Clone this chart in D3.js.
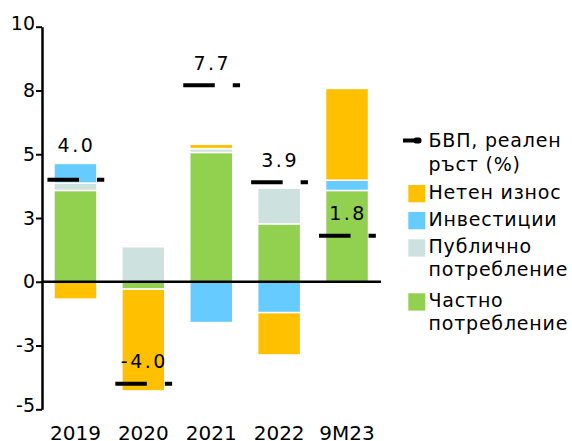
<!DOCTYPE html>
<html>
<head>
<meta charset="utf-8">
<script src="https://cdn.jsdelivr.net/npm/d3@7"></script>
<style>
  html, body { margin: 0; padding: 0; background: #fff; }
  svg { display: block; font-family: "DejaVu Sans", Verdana, sans-serif; }
</style>
</head>
<body>
<svg id="chart" width="572" height="441"></svg>
<script>
// ---- data ----
const categories = ["2019", "2020", "2021", "2022", "9M23"];
const privateCons = [3.58, -0.29, 5.07, 2.27, 3.58];   // Частно потребление
const publicCons  = [0.29, 1.38, 0.15, 1.40, 0.00];    // Публично потребление
const investment  = [0.77, 0.06, -1.60, -1.21, 0.40];  // Инвестиции
const netExports  = [-0.68, -3.99, 0.17, -1.66, 3.60]; // Нетен износ
const gdpGrowth   = [4.0, -4.0, 7.7, 3.9, 1.8];        // БВП, реален ръст (%)
const gdpLabels   = ["4.0", "-4.0", "7.7", "3.9", "1.8"];
const yTickValues = [-5, -2.5, 0, 2.5, 5, 7.5, 10];
const yTickLabels = ["-5", "-3", "0", "3", "5", "8", "10"];
const seriesKeys  = ["private", "public", "investment", "netExports"];
const seriesNames = ["Частно потребление", "Публично потребление", "Инвестиции", "Нетен износ"];
const seriesColors = ["#92d050", "#cde2df", "#66ccff", "#ffc000"];
const gdpLegendLines = ["БВП, реален", "ръст (%)"];

// ---- build table ----
const table = categories.map((c, i) => ({
  cat: c,
  private: privateCons[i],
  public: publicCons[i],
  investment: investment[i],
  netExports: netExports[i],
  gdp: gdpGrowth[i],
  gdpLabel: gdpLabels[i]
}));

const svg = d3.select("#chart");
const FONT = "DejaVu Sans, Verdana, sans-serif";

const x = d3.scaleBand().domain(categories).range([41.5, 381])
  .paddingInner(0.367).paddingOuter(0.1835);
const y = d3.scaleLinear().domain([-5, 10]).range([409.3, 26.7]);
const color = d3.scaleOrdinal().domain(seriesKeys).range(seriesColors);

const stack = d3.stack().keys(seriesKeys)
  .order(d3.stackOrderNone).offset(d3.stackOffsetDiverging);
const stacked = stack(table);

// bars
svg.append("g").selectAll("g").data(stacked).join("g")
  .attr("fill", d => color(d.key))
  .selectAll("rect").data(d => d).join("rect")
  .attr("x", d => x(d.data.cat))
  .attr("width", x.bandwidth())
  .attr("y", d => y(Math.max(d[0], d[1])))
  .attr("height", d => Math.abs(y(d[0]) - y(d[1])))
  .attr("stroke", "#fff")
  .attr("stroke-width", 1.5);

// zero line
svg.append("line")
  .attr("x1", 42).attr("x2", 381)
  .attr("y1", y(0)).attr("y2", y(0))
  .attr("stroke", "#000").attr("stroke-width", 2.5);

// y axis
const yAxis = d3.axisLeft(y)
  .tickValues(yTickValues)
  .tickFormat(d => yTickLabels[yTickValues.indexOf(d)])
  .tickSize(6).tickSizeOuter(0).tickPadding(1);
const gy = svg.append("g").attr("transform", "translate(42,0)").call(yAxis);
gy.select(".domain").attr("stroke", "#000").attr("stroke-width", 2.5);
gy.selectAll(".tick line").attr("stroke", "#000").attr("stroke-width", 2);
gy.selectAll(".tick text")
  .attr("font-family", FONT).attr("font-size", 19).attr("fill", "#000")
  .attr("dy", d => (d === 10 || d === -5) ? "0.14em" : "0.32em");

// x labels
svg.append("g").selectAll("text").data(categories).join("text")
  .attr("x", d => x(d) + x.bandwidth() / 2)
  .attr("y", 440)
  .attr("text-anchor", "middle")
  .attr("font-family", FONT).attr("font-size", 20).attr("fill", "#000")
  .text(d => d);

// GDP markers
const gm = svg.append("g");
gm.selectAll("line").data(table).join("line")
  .attr("x1", d => x(d.cat) + x.bandwidth() / 2 - 28)
  .attr("x2", d => x(d.cat) + x.bandwidth() / 2 + 28.8)
  .attr("y1", d => y(d.gdp)).attr("y2", d => y(d.gdp))
  .attr("stroke", "#000").attr("stroke-width", 4)
  .attr("stroke-dasharray", "31.5,18,7.3");

// positive stack top per category
const posTop = table.map(d => {
  let s = 0;
  seriesKeys.forEach(k => { if (d[k] > 0) s += d[k]; });
  return s;
});

gm.selectAll("text").data(table).join("text")
  .attr("x", d => x(d.cat) + x.bandwidth() / 2 + 1)
  .attr("y", (d, i) => {
    const my = y(d.gdp);
    const top = y(posTop[i]);
    if (top < my && my - top < 25) return top - 11.5;
    return my - 15.5;
  })
  .attr("text-anchor", "middle")
  .attr("font-family", FONT).attr("font-size", 19)
  .attr("letter-spacing", "2.5px").attr("fill", "#000")
  .text(d => d.gdpLabel);

// legend
const lg = svg.append("g");
lg.append("line").attr("x1", 403).attr("x2", 416).attr("y1", 140.5).attr("y2", 140.5)
  .attr("stroke", "#000").attr("stroke-width", 4);
lg.append("rect").attr("x", 413.5).attr("y", 137.5).attr("width", 8).attr("height", 6)
  .attr("rx", 2.5).attr("fill", "#000");
gdpLegendLines.forEach((t, i) => {
  lg.append("text").attr("x", 428.5).attr("y", 146.7 + i * 24.5)
    .attr("font-family", FONT).attr("font-size", 19).attr("letter-spacing", "0.8px")
    .attr("fill", "#000").text(t);
});

const legendItems = [
  { key: "netExports", lines: ["Нетен износ"], base: 199 },
  { key: "investment", lines: ["Инвестиции"], base: 226 },
  { key: "public", lines: ["Публично", "потребление"], base: 253.3 },
  { key: "private", lines: ["Частно", "потребление"], base: 307.3 }
];
legendItems.forEach(it => {
  lg.append("rect").attr("x", 408.3).attr("y", it.base - 14)
    .attr("width", 17).attr("height", 17.3).attr("fill", color(it.key));
  it.lines.forEach((t, j) => {
    lg.append("text").attr("x", 428.5).attr("y", it.base + j * 22.5)
      .attr("font-family", FONT).attr("font-size", 19).attr("letter-spacing", "0.8px")
      .attr("fill", "#000").text(t);
  });
});
</script>
</body>
</html>
